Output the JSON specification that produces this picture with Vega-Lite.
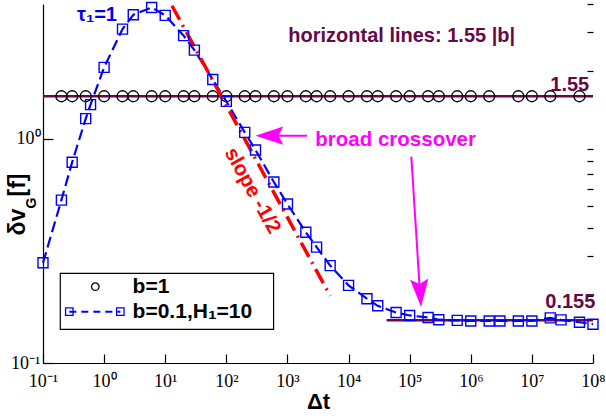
{
  "$schema": "https://vega.github.io/schema/vega-lite/v6.json",
  "width": 550,
  "height": 359,
  "autosize": {"type": "none"},
  "padding": {"left": 43, "top": 4, "right": 13, "bottom": 53},
  "background": "white",
  "config": {
    "view": {"stroke": null},
    "axis": {"grid": false, "domainColor": "#000", "tickColor": "#000", "labelColor": "#000", "labelFont": "Liberation Serif", "labelFontSize": 18, "domainWidth": 1.2, "tickWidth": 1.2},
    "text": {"font": "Liberation Sans", "fontWeight": "bold", "fontSize": 20}
  },
  "datasets": {
    "hlines": [
      {"x": 0.1, "x2": 100000000, "y": 1.55},
      {"x": 42000, "x2": 100000000, "y": 0.155}
    ],
    "circles": [
      {"x": 0.2, "y": 1.55}, {"x": 0.3, "y": 1.55}, {"x": 0.5, "y": 1.55}, {"x": 1, "y": 1.55},
      {"x": 2, "y": 1.55}, {"x": 3, "y": 1.55}, {"x": 6, "y": 1.55}, {"x": 10, "y": 1.55},
      {"x": 20, "y": 1.55}, {"x": 30, "y": 1.55}, {"x": 60, "y": 1.55}, {"x": 100, "y": 1.55},
      {"x": 200, "y": 1.55}, {"x": 300, "y": 1.55}, {"x": 600, "y": 1.55}, {"x": 1000, "y": 1.55},
      {"x": 2000, "y": 1.55}, {"x": 3000, "y": 1.55}, {"x": 5000, "y": 1.55}, {"x": 10000, "y": 1.55},
      {"x": 20000, "y": 1.55}, {"x": 30000, "y": 1.55}, {"x": 60000, "y": 1.55}, {"x": 100000, "y": 1.55},
      {"x": 200000, "y": 1.55}, {"x": 300000, "y": 1.55}, {"x": 600000, "y": 1.55}, {"x": 1000000, "y": 1.55},
      {"x": 2000000, "y": 1.55}, {"x": 6000000, "y": 1.55}, {"x": 10000000, "y": 1.55}, {"x": 20000000, "y": 1.55},
      {"x": 60000000, "y": 1.55}
    ],
    "squares": [
      {"x": 0.1, "y": 0.28}, {"x": 0.2, "y": 0.533}, {"x": 0.3, "y": 0.787}, {"x": 0.5, "y": 1.232},
      {"x": 0.6, "y": 1.422}, {"x": 1, "y": 2.085}, {"x": 2, "y": 3.09}, {"x": 3, "y": 3.58},
      {"x": 6, "y": 3.86}, {"x": 10, "y": 3.56}, {"x": 20, "y": 2.89}, {"x": 30, "y": 2.49},
      {"x": 60, "y": 1.84}, {"x": 100, "y": 1.47}, {"x": 200, "y": 1.07}, {"x": 300, "y": 0.893},
      {"x": 600, "y": 0.642}, {"x": 1000, "y": 0.512}, {"x": 2000, "y": 0.383}, {"x": 3000, "y": 0.329},
      {"x": 5000, "y": 0.272}, {"x": 10000, "y": 0.222}, {"x": 20000, "y": 0.1936}, {"x": 30000, "y": 0.18},
      {"x": 60000, "y": 0.168}, {"x": 100000, "y": 0.163}, {"x": 200000, "y": 0.1596}, {"x": 300000, "y": 0.156},
      {"x": 600000, "y": 0.155}, {"x": 1000000, "y": 0.154}, {"x": 2000000, "y": 0.154}, {"x": 3000000, "y": 0.154},
      {"x": 6000000, "y": 0.154}, {"x": 10000000, "y": 0.154}, {"x": 20000000, "y": 0.159}, {"x": 30000000, "y": 0.1558},
      {"x": 60000000, "y": 0.152}, {"x": 100000000, "y": 0.149}
    ],
    "slope": [
      {"x": 12.9, "y": 3.93}, {"x": 5000, "y": 0.1996}
    ],
    "maroonText": [
      {"x": 1033, "y": 2.695, "label": "horizontal lines: 1.55 |b|"},
      {"x": 20000000, "y": 1.641, "label": "1.55"},
      {"x": 16580000, "y": 0.1765, "label": "0.155"}
    ],
    "magentaText": [
      {"x": 2857, "y": 0.9336, "label": "broad crossover"}
    ],
    "blueText": [
      {"x": 0.36, "y": 3.367, "label": "τ₁=1"}
    ],
    "redText": [
      {"x": 266, "y": 0.588, "label": "slope -1/2"}
    ],
    "arrowLines": [
      {"x": 600, "y": 1.034, "x2": 2089, "y2": 1.034},
      {"x": 106400, "y": 0.834, "x2": 146600, "y2": 0.211}
    ],
    "arrowLeft": [{"x": 298, "y": 1.034}],
    "arrowDown": [{"x": 153500, "y": 0.1777}],
    "legendBox": [{"x": 0.1918, "x2": 593, "y": 0.1413, "y2": 0.251}],
    "legendCircle": [{"x": 0.7177, "y": 0.219}],
    "legendLine": [{"x": 0.2694, "y": 0.1694}, {"x": 1.841, "y": 0.1694}],
    "legendText": [
      {"x": 2.925, "y": 0.2045, "label": "b=1"},
      {"x": 2.925, "y": 0.1593, "label": "b=0.1,H₁=10"}
    ],
    "ytitleMain": [
      {"x": 0.05133, "y": 0.3707, "label": "δv"},
      {"x": 0.05133, "y": 0.5533, "label": "[f]"}
    ],
    "ytitleSub": [
      {"x": 0.0777, "y": 0.4891, "label": "G"}
    ]
  },
  "resolve": {"axis": {"x": "independent", "y": "independent"}},
  "layer": [
    {
      "data": {"name": "hlines"},
      "mark": {"type": "rule", "color": "#670748", "strokeWidth": 2.5},
      "encoding": {
        "x": {"field": "x", "type": "quantitative", "scale": {"type": "log", "domain": [0.1, 100000000]},
          "axis": {"values": [0.1, 1, 10, 100, 1000, 10000, 100000, 1000000, 10000000, 100000000],
            "labelExpr": "'10' + ['⁻¹','⁰','¹','²','³','⁴','⁵','⁶','⁷','⁸'][round(log(datum.value)/LN10)+1]",
            "tickSize": -9, "labelPadding": 18, "labelFlush": false, "labelOverlap": false, "labelBaseline": "top",
            "title": "Δt", "titleFont": "Liberation Sans", "titleFontWeight": "bold", "titleFontSize": 22, "titleColor": "#000",
            "titleBaseline": "alphabetic", "titleY": 45}},
        "x2": {"field": "x2"},
        "y": {"field": "y", "type": "quantitative", "scale": {"type": "log", "domain": [0.1, 4]},
          "axis": {"values": [0.1, 1],
            "labelExpr": "'10' + ['⁻¹','⁰','¹'][round(log(datum.value)/LN10)+1]",
            "tickSize": -10, "labelPadding": 13, "labelFlush": false, "labelOverlap": false, "title": null}}
      }
    },
    {
      "data": {"name": "circles"},
      "mark": {"type": "point", "shape": "circle", "filled": false, "stroke": "#000", "strokeWidth": 1.3, "size": 121, "opacity": 1},
      "encoding": {
        "x": {"field": "x", "type": "quantitative", "scale": {"type": "log", "domain": [0.1, 100000000]}, "axis": null},
        "y": {"field": "y", "type": "quantitative", "scale": {"type": "log", "domain": [0.1, 4]},
          "axis": {"values": [0.2, 0.3, 0.4, 0.5, 0.6, 0.7, 0.8, 0.9, 2, 3, 4], "labels": false, "domain": false, "tickSize": -6, "title": null}}
      }
    },
    {
      "data": {"name": "squares"},
      "mark": {"type": "line", "color": "#0000ff", "strokeWidth": 2.2, "strokeDash": [11, 5]},
      "encoding": {
        "x": {"field": "x", "type": "quantitative", "scale": {"type": "log", "domain": [0.1, 100000000]}, "axis": null},
        "y": {"field": "y", "type": "quantitative", "scale": {"type": "log", "domain": [0.1, 4]}, "axis": null}
      }
    },
    {
      "data": {"name": "slope"},
      "mark": {"type": "line", "color": "#ff0000", "strokeWidth": 3.5, "strokeDash": [16, 6, 2, 6]},
      "encoding": {
        "x": {"field": "x", "type": "quantitative", "scale": {"type": "log", "domain": [0.1, 100000000]}, "axis": null},
        "y": {"field": "y", "type": "quantitative", "scale": {"type": "log", "domain": [0.1, 4]}, "axis": null}
      }
    },
    {
      "data": {"name": "squares"},
      "mark": {"type": "point", "shape": "square", "filled": false, "stroke": "#0000ff", "strokeWidth": 1.4, "size": 100, "opacity": 1},
      "encoding": {
        "x": {"field": "x", "type": "quantitative", "scale": {"type": "log", "domain": [0.1, 100000000]}, "axis": null},
        "y": {"field": "y", "type": "quantitative", "scale": {"type": "log", "domain": [0.1, 4]}, "axis": null}
      }
    },
    {
      "data": {"name": "maroonText"},
      "mark": {"type": "text", "color": "#670748", "align": "left", "baseline": "alphabetic", "fontSize": 20},
      "encoding": {
        "x": {"field": "x", "type": "quantitative", "scale": {"type": "log", "domain": [0.1, 100000000]}, "axis": null},
        "y": {"field": "y", "type": "quantitative", "scale": {"type": "log", "domain": [0.1, 4]}, "axis": null},
        "text": {"field": "label"}
      }
    },
    {
      "data": {"name": "magentaText"},
      "mark": {"type": "text", "color": "#ff00ff", "align": "left", "baseline": "alphabetic", "fontSize": 20.5},
      "encoding": {
        "x": {"field": "x", "type": "quantitative", "scale": {"type": "log", "domain": [0.1, 100000000]}, "axis": null},
        "y": {"field": "y", "type": "quantitative", "scale": {"type": "log", "domain": [0.1, 4]}, "axis": null},
        "text": {"field": "label"}
      }
    },
    {
      "data": {"name": "blueText"},
      "mark": {"type": "text", "color": "#0000ff", "align": "left", "baseline": "alphabetic", "fontSize": 20},
      "encoding": {
        "x": {"field": "x", "type": "quantitative", "scale": {"type": "log", "domain": [0.1, 100000000]}, "axis": null},
        "y": {"field": "y", "type": "quantitative", "scale": {"type": "log", "domain": [0.1, 4]}, "axis": null},
        "text": {"field": "label"}
      }
    },
    {
      "data": {"name": "redText"},
      "mark": {"type": "text", "color": "#ff0000", "align": "center", "baseline": "middle", "fontSize": 20.5, "angle": 61},
      "encoding": {
        "x": {"field": "x", "type": "quantitative", "scale": {"type": "log", "domain": [0.1, 100000000]}, "axis": null},
        "y": {"field": "y", "type": "quantitative", "scale": {"type": "log", "domain": [0.1, 4]}, "axis": null},
        "text": {"field": "label"}
      }
    },
    {
      "data": {"name": "arrowLines"},
      "mark": {"type": "rule", "color": "#ff00ff", "strokeWidth": 2},
      "encoding": {
        "x": {"field": "x", "type": "quantitative", "scale": {"type": "log", "domain": [0.1, 100000000]}, "axis": null},
        "y": {"field": "y", "type": "quantitative", "scale": {"type": "log", "domain": [0.1, 4]}, "axis": null},
        "x2": {"field": "x2"},
        "y2": {"field": "y2"}
      }
    },
    {
      "data": {"name": "arrowLeft"},
      "mark": {"type": "point", "shape": "M0,0 L2,-0.65 L1.65,0 L2,0.65 Z", "filled": true, "color": "#ff00ff", "size": 784, "opacity": 1, "angle": 0},
      "encoding": {
        "x": {"field": "x", "type": "quantitative", "scale": {"type": "log", "domain": [0.1, 100000000]}, "axis": null},
        "y": {"field": "y", "type": "quantitative", "scale": {"type": "log", "domain": [0.1, 4]}, "axis": null}
      }
    },
    {
      "data": {"name": "arrowDown"},
      "mark": {"type": "point", "shape": "M0,0 L2,-0.65 L1.65,0 L2,0.65 Z", "filled": true, "color": "#ff00ff", "size": 784, "opacity": 1, "angle": 266.3},
      "encoding": {
        "x": {"field": "x", "type": "quantitative", "scale": {"type": "log", "domain": [0.1, 100000000]}, "axis": null},
        "y": {"field": "y", "type": "quantitative", "scale": {"type": "log", "domain": [0.1, 4]}, "axis": null}
      }
    },
    {
      "data": {"name": "legendBox"},
      "mark": {"type": "rect", "fill": "#ffffff", "stroke": "#000000", "strokeWidth": 1.2},
      "encoding": {
        "x": {"field": "x", "type": "quantitative", "scale": {"type": "log", "domain": [0.1, 100000000]}, "axis": null},
        "x2": {"field": "x2"},
        "y": {"field": "y", "type": "quantitative", "scale": {"type": "log", "domain": [0.1, 4]}, "axis": null},
        "y2": {"field": "y2"}
      }
    },
    {
      "data": {"name": "legendCircle"},
      "mark": {"type": "point", "shape": "circle", "filled": false, "stroke": "#000", "strokeWidth": 1.3, "size": 56, "opacity": 1},
      "encoding": {
        "x": {"field": "x", "type": "quantitative", "scale": {"type": "log", "domain": [0.1, 100000000]}, "axis": null},
        "y": {"field": "y", "type": "quantitative", "scale": {"type": "log", "domain": [0.1, 4]}, "axis": null}
      }
    },
    {
      "data": {"name": "legendLine"},
      "mark": {"type": "line", "color": "#0000ff", "strokeWidth": 2, "strokeDash": [7, 5]},
      "encoding": {
        "x": {"field": "x", "type": "quantitative", "scale": {"type": "log", "domain": [0.1, 100000000]}, "axis": null},
        "y": {"field": "y", "type": "quantitative", "scale": {"type": "log", "domain": [0.1, 4]}, "axis": null}
      }
    },
    {
      "data": {"name": "legendLine"},
      "mark": {"type": "point", "shape": "square", "filled": false, "stroke": "#0000ff", "strokeWidth": 1.3, "size": 56, "opacity": 1},
      "encoding": {
        "x": {"field": "x", "type": "quantitative", "scale": {"type": "log", "domain": [0.1, 100000000]}, "axis": null},
        "y": {"field": "y", "type": "quantitative", "scale": {"type": "log", "domain": [0.1, 4]}, "axis": null}
      }
    },
    {
      "data": {"name": "legendText"},
      "mark": {"type": "text", "color": "#000000", "align": "left", "baseline": "alphabetic", "fontSize": 21},
      "encoding": {
        "x": {"field": "x", "type": "quantitative", "scale": {"type": "log", "domain": [0.1, 100000000]}, "axis": null},
        "y": {"field": "y", "type": "quantitative", "scale": {"type": "log", "domain": [0.1, 4]}, "axis": null},
        "text": {"field": "label"}
      }
    },
    {
      "data": {"name": "ytitleMain"},
      "mark": {"type": "text", "color": "#000000", "align": "left", "baseline": "alphabetic", "fontSize": 23, "angle": 270},
      "encoding": {
        "x": {"field": "x", "type": "quantitative", "scale": {"type": "log", "domain": [0.1, 100000000]}, "axis": null},
        "y": {"field": "y", "type": "quantitative", "scale": {"type": "log", "domain": [0.1, 4]}, "axis": null},
        "text": {"field": "label"}
      }
    },
    {
      "data": {"name": "ytitleSub"},
      "mark": {"type": "text", "color": "#000000", "align": "left", "baseline": "alphabetic", "fontSize": 14, "angle": 270},
      "encoding": {
        "x": {"field": "x", "type": "quantitative", "scale": {"type": "log", "domain": [0.1, 100000000]}, "axis": null},
        "y": {"field": "y", "type": "quantitative", "scale": {"type": "log", "domain": [0.1, 4]}, "axis": null},
        "text": {"field": "label"}
      }
    }
  ]
}
